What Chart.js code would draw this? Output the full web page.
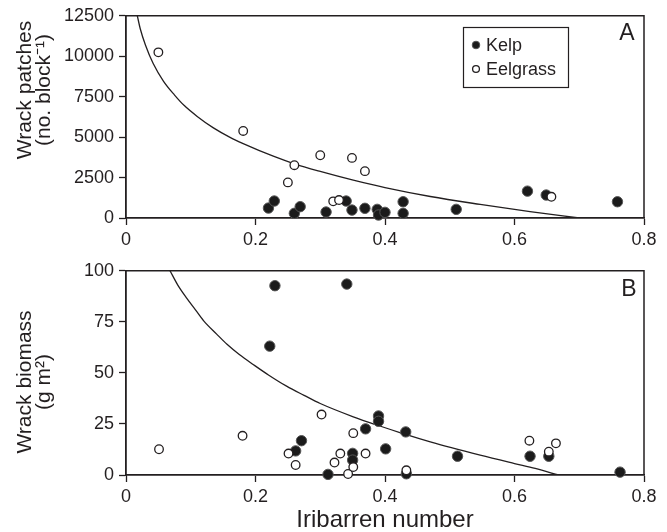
<!DOCTYPE html>
<html><head><meta charset="utf-8">
<script src="https://cdn.jsdelivr.net/npm/chart.js@4.4.1/dist/chart.umd.min.js"></script>
<style>
html,body{margin:0;padding:0;background:#fff;width:667px;height:532px;overflow:hidden}
canvas{position:absolute;left:0}
#cA{top:0}
#cB{top:255px}
</style></head><body>
<canvas id="cA" width="667" height="258"></canvas>
<canvas id="cB" width="667" height="277"></canvas>
<script>
// ---------- data ----------
const xTicks = [0, 0.2, 0.4, 0.6, 0.8];
const xTickLabels = ['0', '0.2', '0.4', '0.6', '0.8'];
const yTicksA = [0, 2500, 5000, 7500, 10000, 12500];
const yTicksB = [0, 25, 50, 75, 100];
const seriesNames = ['Kelp', 'Eelgrass'];

// Panel A: wrack patches (no. block^-1)
const kelpA_x = [0.220, 0.229, 0.260, 0.269, 0.309, 0.340, 0.349, 0.369, 0.388, 0.390, 0.400, 0.428, 0.428, 0.510, 0.620, 0.649, 0.759];
const kelpA_y = [615, 1050, 290, 700, 370, 1050, 490, 600, 535, 185, 350, 1005, 290, 535, 1660, 1420, 1005];
const eelA_x = [0.050, 0.181, 0.250, 0.260, 0.300, 0.320, 0.329, 0.349, 0.369, 0.657];
const eelA_y = [10240, 5380, 2200, 3265, 3880, 1030, 1110, 3715, 2895, 1310];
const fitA_x = [0.0175, 0.022, 0.030, 0.042, 0.058, 0.075, 0.090, 0.110, 0.135, 0.160, 0.181, 0.2275, 0.260, 0.300, 0.351, 0.400, 0.470, 0.547, 0.624, 0.700];
const fitA_y = [12500, 11700, 10700, 9550, 8450, 7600, 6950, 6280, 5570, 5000, 4600, 3820, 3350, 2880, 2340, 1880, 1330, 840, 390, 0];

// Panel B: wrack biomass (g m^-2)
const kelpB_x = [0.222, 0.230, 0.262, 0.271, 0.312, 0.341, 0.350, 0.350, 0.370, 0.390, 0.390, 0.401, 0.432, 0.433, 0.512, 0.624, 0.653, 0.763];
const kelpB_y = [63.1, 92.7, 11.8, 16.8, 0.3, 93.5, 10.6, 7.3, 22.6, 28.9, 26.3, 12.8, 21.1, 0.6, 9.2, 9.2, 9.2, 1.4];
const eelB_x = [0.051, 0.180, 0.251, 0.262, 0.302, 0.322, 0.331, 0.343, 0.351, 0.351, 0.370, 0.433, 0.623, 0.653, 0.664];
const eelB_y = [12.6, 19.2, 10.5, 4.9, 29.6, 6.1, 10.5, 0.5, 20.5, 3.9, 10.5, 2.3, 16.8, 11.4, 15.5];
const fitB_x = [0.068, 0.080, 0.094, 0.107, 0.120, 0.140, 0.156, 0.175, 0.197, 0.220, 0.248, 0.275, 0.300, 0.351, 0.392, 0.423, 0.470, 0.547, 0.600, 0.632, 0.668];
const fitB_y = [100, 93, 86.5, 81, 75.5, 69, 64, 59, 54, 49, 43.5, 39, 35, 28.5, 24, 20.8, 16.2, 9.7, 5.6, 3.2, 0];

// ---------- styling ----------
const INK = '#231f20';
const FONT = "'Liberation Sans', Arial, Helvetica, sans-serif";
const pts = (xs, ys) => xs.map((x, i) => ({x, y: ys[i]}));

const decor = {
  id: 'decor',
  beforeDatasetsDraw(chart, args, o) {
    const {ctx, chartArea: a} = chart;
    ctx.save();
    ctx.strokeStyle = INK; ctx.lineWidth = 1.5;
    ctx.beginPath();
    ctx.moveTo(a.left, a.top); ctx.lineTo(a.right, a.top); ctx.lineTo(a.right, a.bottom);
    ctx.stroke();
    ctx.restore();
  },
  afterDatasetsDraw(chart, args, o) {
    const {ctx} = chart;
    ctx.save();
    ctx.fillStyle = INK;
    ctx.font = '23px ' + FONT;
    ctx.textAlign = 'center'; ctx.textBaseline = 'middle';
    ctx.fillText(o.letter, o.letterX, o.letterY);
    if (o.legend) {
      const L = o.legend;
      ctx.fillStyle = '#fff';
      ctx.fillRect(L.x, L.y, L.w, L.h);
      ctx.strokeStyle = INK; ctx.lineWidth = 1.2;
      ctx.strokeRect(L.x + 0.5, L.y + 0.5, L.w, L.h);
      const ds = chart.data.datasets.filter(d => d.inLegend);
      ds.forEach((d, i) => {
        const cy = L.y + L.row0 + i * L.rowH;
        ctx.beginPath();
        ctx.arc(L.x + L.mx, cy, d.inLegend, 0, Math.PI * 2);
        ctx.fillStyle = d.backgroundColor; ctx.fill();
        ctx.strokeStyle = d.borderColor; ctx.lineWidth = d.borderWidth; ctx.stroke();
        ctx.fillStyle = INK;
        ctx.font = '18px ' + FONT;
        ctx.textAlign = 'left'; ctx.textBaseline = 'middle';
        ctx.fillText(d.label, L.x + L.tx, cy + 1);
      });
    }
    // y titles
    ctx.fillStyle = INK;
    ctx.font = '21px ' + FONT;
    ctx.textAlign = 'center'; ctx.textBaseline = 'middle';
    o.ytitle.forEach((t, i) => {
      ctx.save();
      ctx.translate(o.ytitleX[i], o.ytitleY);
      ctx.rotate(-Math.PI / 2);
      ctx.fillText(t, 0, 0);
      ctx.restore();
    });
    ctx.restore();
  }
};

function makeChart(id, kx, ky, ex, ey, fx, fy, yTicks, ymax, opts) {
  const ctx = document.getElementById(id);
  return new Chart(ctx, {
    type: 'scatter',
    data: {
      datasets: [
        {label: 'fit', data: pts(fx, fy), showLine: true, pointRadius: 0, borderColor: INK,
         borderWidth: 1.3, cubicInterpolationMode: 'monotone', order: 3, fill: false},
        {label: seriesNames[0], data: pts(kx, ky), pointRadius: 5.2, backgroundColor: '#1b1b1b',
         borderColor: '#555', borderWidth: 1, order: 2, clip: false, inLegend: 3.8},
        {label: seriesNames[1], data: pts(ex, ey), pointRadius: 4.3, backgroundColor: '#ffffff',
         borderColor: INK, borderWidth: 1.3, order: 1, clip: false, inLegend: 3.4}
      ]
    },
    options: {
      responsive: false, animation: false, devicePixelRatio: 1,
      layout: {padding: {top: 15, right: 23, left: 0, bottom: 0}},
      plugins: {legend: {display: false}, tooltip: {enabled: false}, decor: opts.decor},
      scales: {
        x: {
          type: 'linear', min: 0, max: 0.8,
          afterBuildTicks: s => { s.ticks = xTicks.map(v => ({value: v})); },
          afterFit: s => { s.height = opts.xh; },
          ticks: {callback: (v, i) => xTickLabels[i], color: INK, font: {family: FONT, size: 18}, padding: 4, maxRotation: 0, autoSkip: false},
          grid: {display: true, drawOnChartArea: false, drawTicks: true, tickLength: 7, tickColor: INK, tickWidth: 1.3},
          border: {display: true, color: INK, width: 1.8},
          title: opts.xtitle ? {display: true, text: opts.xtitle, color: INK, font: {family: FONT, size: 24, lineHeight: 1.0}, padding: {top: 0, bottom: 0}} : {display: false}
        },
        y: {
          type: 'linear', min: 0, max: ymax,
          afterBuildTicks: s => { s.ticks = yTicks.map(v => ({value: v})); },
          afterFit: s => { s.width = 126; },
          ticks: {callback: v => String(v), color: INK, font: {family: FONT, size: 18}, padding: 5, autoSkip: false},
          grid: {display: true, drawOnChartArea: false, drawTicks: true, tickLength: 7, tickColor: INK, tickWidth: 1.3},
          border: {display: true, color: INK, width: 1.8}
        }
      }
    },
    plugins: [decor]
  });
}

makeChart('cA', kelpA_x, kelpA_y, eelA_x, eelA_y, fitA_x, fitA_y, yTicksA, 12500, {
  xh: 40,
  decor: {letter: 'A', letterX: 627, letterY: 34,
          legend: {x: 463, y: 27, w: 105, h: 60, row0: 18, rowH: 24, mx: 13, tx: 23},
          ytitle: ['Wrack patches', '(no. block\u207B\u00B9)'], ytitleX: [25, 44], ytitleY: 90}
});
makeChart('cB', kelpB_x, kelpB_y, eelB_x, eelB_y, fitB_x, fitB_y, yTicksB, 100, {
  xh: 57, xtitle: 'Iribarren number',
  decor: {letter: 'B', letterX: 629, letterY: 35, legend: null,
          ytitle: ['Wrack biomass', '(g m\u00B2)'], ytitleX: [25, 44], ytitleY: 127}
});
</script>
</body></html>
